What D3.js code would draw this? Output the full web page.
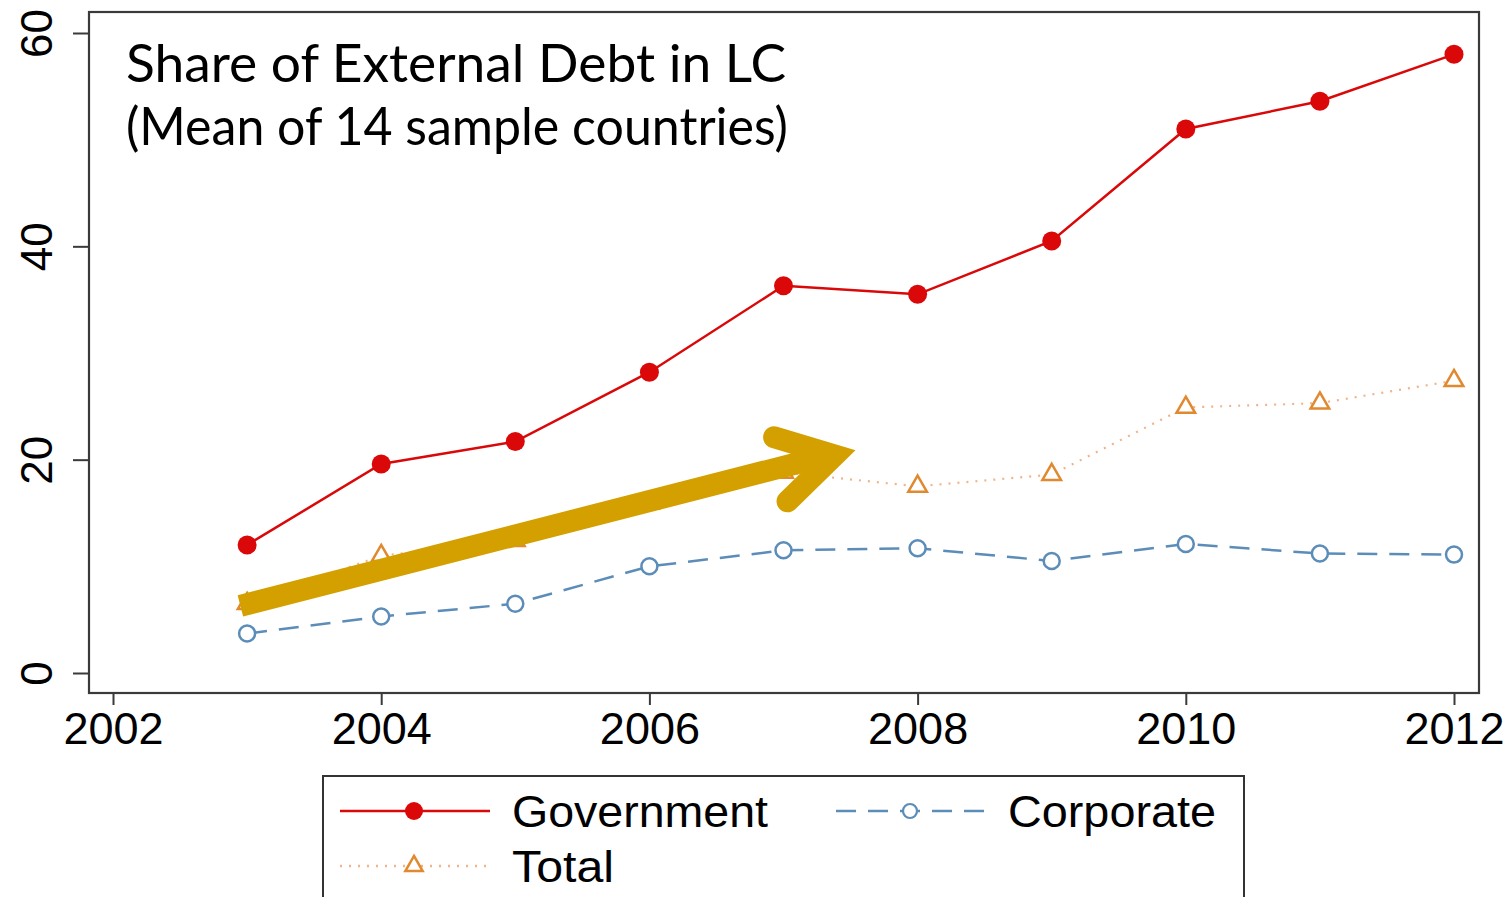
<!DOCTYPE html>
<html>
<head>
<meta charset="utf-8">
<script src="https://cdn.jsdelivr.net/npm/d3@7/dist/d3.min.js"></script>
<style>
  html, body { margin: 0; padding: 0; background: #fff; }
  svg { display: block; }
</style>
</head>
<body>
<svg id="chart" width="1511" height="897"></svg>
<script>
// ---- data ----
const years = [2003, 2004, 2005, 2006, 2007, 2008, 2009, 2010, 2011, 2012];
const government = [12.0, 19.6, 21.7, 28.2, 36.3, 35.5, 40.5, 51.0, 53.6, 58.0];
const corporate  = [3.7, 5.3, 6.5, 10.0, 11.5, 11.7, 10.5, 12.1, 11.2, 11.1];
const total      = [6.5, 11.0, 12.4, 15.9, 18.8, 17.5, 18.6, 24.9, 25.3, 27.4];
const xTicks = [2002, 2004, 2006, 2008, 2010, 2012];
const yTicks = [0, 20, 40, 60];
const titleLines = ["Share of External Debt in LC", "(Mean of 14 sample countries)"];
const seriesNames = ["Government", "Corporate", "Total"];
// annotation arrow in data coordinates: shaft start, vertex, head arms
const arrowShaft = [[2002.95, 6.3], [2007.33, 20.4]];
const arrowHead  = [[2006.93, 22.1], [2007.38, 20.4], [2007.03, 16.1]];

// ---- layout ----
const svg = d3.select("#chart");
const frame = {left: 89, right: 1479, top: 12, bottom: 693};
const x = d3.scaleLinear().domain([2002, 2012]).range([113, 1454]);
const y = d3.scaleLinear().domain([0, 60]).range([673, 33]);

const axisColor = "#3a3a3a";
const numFont = "'Liberation Sans', Arial, Helvetica, sans-serif";

// frame
svg.append("rect")
  .attr("x", frame.left).attr("y", frame.top)
  .attr("width", frame.right - frame.left).attr("height", frame.bottom - frame.top)
  .attr("fill", "none").attr("stroke", axisColor).attr("stroke-width", 2.2);

// y axis
const yAxis = d3.axisLeft(y).tickValues(yTicks).tickSize(16).tickPadding(0).tickFormat("");
const gy = svg.append("g").attr("transform", `translate(${frame.left},0)`).call(yAxis);
gy.select(".domain").remove();
gy.selectAll(".tick line").attr("stroke", axisColor).attr("stroke-width", 2);
gy.selectAll(".tick").append("text")
  .attr("transform", "translate(-37,0) rotate(-90)")
  .attr("text-anchor", "middle")
  .attr("fill", "#000")
  .style("font-family", numFont).style("font-size", "44px")
  .text(d => d);

// x axis
const xAxis = d3.axisBottom(x).tickValues(xTicks).tickSize(12).tickPadding(0).tickFormat("");
const gx = svg.append("g").attr("transform", `translate(0,${frame.bottom})`).call(xAxis);
gx.select(".domain").remove();
gx.selectAll(".tick line").attr("stroke", axisColor).attr("stroke-width", 2);
gx.selectAll(".tick").append("text")
  .attr("y", 51)
  .attr("text-anchor", "middle")
  .attr("fill", "#000")
  .style("font-family", numFont).style("font-size", "45px")
  .text(d => d);

// ---- series ----
const govColor = "#da0808";
const corpColor = "#5b8db8";
const totColor = "#e0892e";
const totLine = "#f0b488";

const line = d3.line().x(d => x(d[0])).y(d => y(d[1]));
const zip = arr => years.map((yr, i) => [yr, arr[i]]);

// total (dotted)
svg.append("path").datum(zip(total))
  .attr("d", line).attr("fill", "none")
  .attr("stroke", totLine).attr("stroke-width", 2.2)
  .attr("stroke-dasharray", "2 7");
svg.append("g").selectAll("path").data(zip(total)).join("path")
  .attr("d", d3.symbol().type(d3.symbolTriangle).size(150))
  .attr("transform", d => `translate(${x(d[0])},${y(d[1])})`)
  .attr("fill", "#fff").attr("stroke", totColor).attr("stroke-width", 2.5);

// corporate (dashed)
svg.append("path").datum(zip(corporate))
  .attr("d", line).attr("fill", "none")
  .attr("stroke", corpColor).attr("stroke-width", 2.5)
  .attr("stroke-dasharray", "20 12");
svg.append("g").selectAll("circle").data(zip(corporate)).join("circle")
  .attr("cx", d => x(d[0])).attr("cy", d => y(d[1])).attr("r", 8)
  .attr("fill", "#fff").attr("stroke", corpColor).attr("stroke-width", 2.5);

// government (solid)
svg.append("path").datum(zip(government))
  .attr("d", line).attr("fill", "none")
  .attr("stroke", govColor).attr("stroke-width", 2.5);
svg.append("g").selectAll("circle").data(zip(government)).join("circle")
  .attr("cx", d => x(d[0])).attr("cy", d => y(d[1])).attr("r", 9.5)
  .attr("fill", govColor);

// ---- title text ----
const titleFont = "Lato, 'Open Sans', sans-serif";
svg.append("text").attr("x", 126).attr("y", 82)
  .attr("textLength", 660).attr("lengthAdjust", "spacingAndGlyphs")
  .style("font-family", titleFont).style("font-size", "52px").attr("fill", "#000")
  .text(titleLines[0]);
svg.append("text").attr("x", 126).attr("y", 145)
  .attr("textLength", 662).attr("lengthAdjust", "spacingAndGlyphs")
  .style("font-family", titleFont).style("font-size", "52px").attr("fill", "#000")
  .text(titleLines[1]);

// ---- arrow annotation ----
const arrowColor = "#d3a000";
svg.append("path").datum(arrowShaft)
  .attr("d", line).attr("fill", "none")
  .attr("stroke", arrowColor).attr("stroke-width", 22).attr("stroke-linecap", "butt");
svg.append("path").datum(arrowHead)
  .attr("d", line).attr("fill", "none")
  .attr("stroke", arrowColor).attr("stroke-width", 22)
  .attr("stroke-linecap", "round").attr("stroke-linejoin", "miter").attr("stroke-miterlimit", 10);

// ---- legend ----
const lg = svg.append("g");
lg.append("rect").attr("x", 323).attr("y", 776).attr("width", 921).attr("height", 140)
  .attr("fill", "#fff").attr("stroke", "#333").attr("stroke-width", 2);

const legendItems = [
  {name: seriesNames[0], x0: 340, row: 811, color: govColor, dash: null, marker: "fill"},
  {name: seriesNames[1], x0: 836, row: 811, color: corpColor, dash: "20 12", marker: "circle"},
  {name: seriesNames[2], x0: 340, row: 866, color: totLine, dash: "2 7", marker: "tri"}
];
legendItems.forEach(it => {
  const l = lg.append("line").attr("x1", it.x0).attr("x2", it.x0 + 150)
    .attr("y1", it.row).attr("y2", it.row)
    .attr("stroke", it.color).attr("stroke-width", 2.5);
  if (it.dash) l.attr("stroke-dasharray", it.dash);
  const mx = it.x0 + 74;
  if (it.marker === "fill") {
    lg.append("circle").attr("cx", mx).attr("cy", it.row).attr("r", 9).attr("fill", govColor);
  } else if (it.marker === "circle") {
    lg.append("circle").attr("cx", mx).attr("cy", it.row).attr("r", 7)
      .attr("fill", "#fff").attr("stroke", corpColor).attr("stroke-width", 2.2);
  } else {
    lg.append("path").attr("d", d3.symbol().type(d3.symbolTriangle).size(130))
      .attr("transform", `translate(${mx},${it.row})`)
      .attr("fill", "#fff").attr("stroke", totColor).attr("stroke-width", 2.5);
  }
  lg.append("text").attr("x", it.x0 + 172).attr("y", it.row + 16)
    .attr("textLength", it.name === "Government" ? 256 : (it.name === "Corporate" ? 208 : 102))
    .attr("lengthAdjust", "spacingAndGlyphs")
    .style("font-family", numFont).style("font-size", "45px").attr("fill", "#000")
    .text(it.name);
});
</script>
</body>
</html>
